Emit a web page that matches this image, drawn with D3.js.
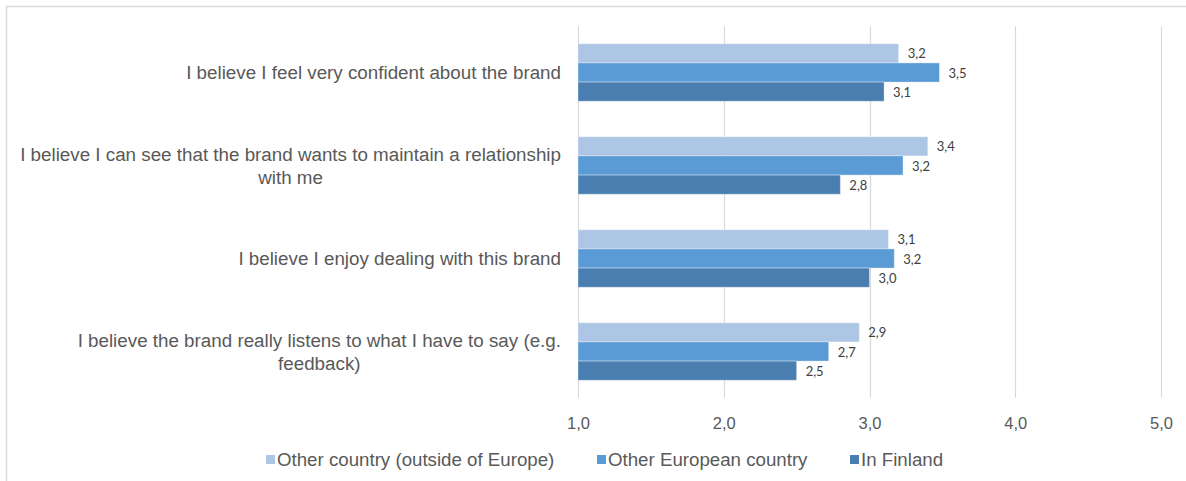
<!DOCTYPE html>
<html>
<head>
<meta charset="utf-8">
<script src="https://cdn.jsdelivr.net/npm/d3@7"></script>
<style>
  html, body { margin: 0; padding: 0; background: #fff; }
  svg { display: block; }
</style>
</head>
<body>
<svg id="chart" width="1186" height="481"></svg>
<script>
// Statements shown on the vertical axis (line breaks mark where a label wraps)
const categories = [
  "I believe I feel very confident about the brand",
  "I believe I can see that the brand wants to maintain a relationship\nwith me",
  "I believe I enjoy dealing with this brand",
  "I believe the brand really listens to what I have to say (e.g.\nfeedback)"
];

// Respondent groups, drawn top to bottom inside each category
const seriesNames = ["Other country (outside of Europe)", "Other European country", "In Finland"];

// Mean scores per series, one value per category
const outsideEurope = [3.2, 3.4, 3.13, 2.93];
const otherEurope   = [3.48, 3.23, 3.17, 2.72];
const inFinland     = [3.1, 2.8, 3.0, 2.5];

const xTicks = [1, 2, 3, 4, 5];

const seriesValues = [outsideEurope, otherEurope, inFinland];
const colors = ["#aec6e6", "#5b9bd5", "#4a7eb0"];

const svg = d3.select("#chart");
const textColor = "#595959";
const font = "'Liberation Sans', Arial, sans-serif";

// Outer chart frame (only top and left edges fall inside the view)
svg.append("path")
  .attr("d", "M6.5,481 V6.5 H1186")
  .attr("fill", "none")
  .attr("stroke", "#d9d9d9")
  .attr("stroke-width", 1.5);

const x = d3.scaleLinear().domain([1, 5]).range([578, 1161]);
const y = d3.scaleBand().domain(categories).range([26, 398]);
const groupH = 57.5;
const yInner = d3.scaleBand().domain(seriesNames).range([0, groupH]);

// Vertical gridlines
svg.append("g")
  .selectAll("line")
  .data(xTicks)
  .join("line")
  .attr("x1", d => Math.round(x(d)) + 0.5)
  .attr("x2", d => Math.round(x(d)) + 0.5)
  .attr("y1", 26)
  .attr("y2", 398)
  .attr("stroke", "#d9d9d9")
  .attr("stroke-width", 1.2);

// Bottom value axis labels
const xAxis = d3.axisBottom(x)
  .tickValues(xTicks)
  .tickSize(0)
  .tickPadding(0)
  .tickFormat(d => d3.format(".1f")(d).replace(".", ","));
const xg = svg.append("g").attr("transform", "translate(0,429)").call(xAxis);
xg.select(".domain").remove();
xg.selectAll("text")
  .attr("dy", 0)
  .attr("fill", textColor)
  .style("font-family", font)
  .style("font-size", "16.5px");

// Bars and value labels
const groups = svg.append("g")
  .selectAll("g")
  .data(categories)
  .join("g")
  .attr("transform", c => `translate(0,${y(c) + (y.bandwidth() - groupH) / 2})`);

groups.each(function(c, ci) {
  const g = d3.select(this);
  seriesNames.forEach((s, si) => {
    const v = seriesValues[si][ci];
    g.append("rect")
      .attr("x", x(1))
      .attr("y", yInner(s))
      .attr("width", x(v) - x(1))
      .attr("height", yInner.bandwidth())
      .attr("fill", colors[si])
      .attr("stroke", "rgba(255,255,255,0.35)")
      .attr("stroke-width", 1);
    g.append("text")
      .attr("x", x(v) + 9)
      .attr("y", yInner(s) + yInner.bandwidth() / 2 + 5)
      .attr("fill", "#404040")
      .style("font-family", "Lato, 'Open Sans', sans-serif")
      .style("font-size", "13px")
      .text(d3.format(".1f")(v).replace(".", ","));
  });
});

// Category labels, right aligned block with centred wrapped lines
categories.forEach(c => {
  const lines = c.split("\n");
  const lineH = 23;
  const cy = y(c) + y.bandwidth() / 2;
  const t = svg.append("text")
    .attr("fill", textColor)
    .style("font-family", font)
    .style("font-size", "18.8px")
    .attr("text-anchor", "middle");
  lines.forEach((ln, i) => {
    t.append("tspan")
      .attr("y", cy + (i - (lines.length - 1) / 2) * lineH + 6.5)
      .text(ln);
  });
  // Centre all lines on the widest one, whose right edge sits beside the axis
  const spans = t.selectAll("tspan").nodes();
  const maxW = d3.max(spans, n => n.getComputedTextLength());
  const cx = 561 - maxW / 2;
  t.selectAll("tspan").attr("x", cx);
});

// Legend
const legendX = [266, 597, 850];
const legend = svg.append("g");
seriesNames.forEach((s, i) => {
  legend.append("rect")
    .attr("x", legendX[i])
    .attr("y", 455)
    .attr("width", 9)
    .attr("height", 9)
    .attr("fill", colors[i]);
  legend.append("text")
    .attr("x", legendX[i] + 11)
    .attr("y", 466)
    .attr("fill", textColor)
    .style("font-family", font)
    .style("font-size", "18.7px")
    .text(s);
});
</script>
</body>
</html>
